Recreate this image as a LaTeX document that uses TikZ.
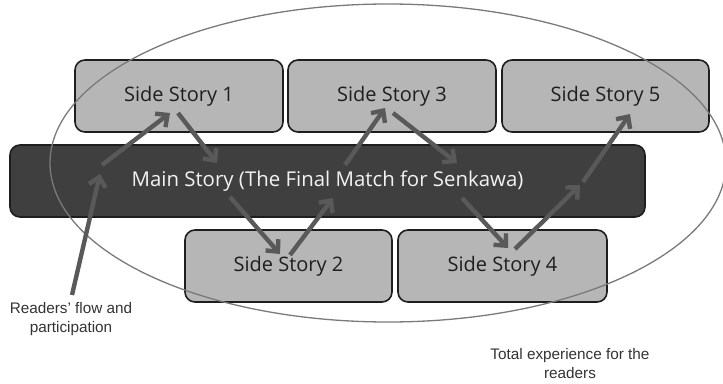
\documentclass[tikz,border=0pt]{standalone}
\usepackage{fontspec}
\newfontfamily\boxfont{Open Sans}
\newfontfamily\labelfont{Liberation Sans}
\usetikzlibrary{arrows.meta,calc}

\definecolor{sidefill}{HTML}{B6B6B6}
\definecolor{mainfill}{HTML}{3F3F3F}
\definecolor{edgecol}{HTML}{1E1E1E}
\definecolor{flowcol}{HTML}{595959}
\definecolor{ringcol}{HTML}{7A7A7A}
\definecolor{labelcol}{HTML}{333333}

\begin{document}
\begin{tikzpicture}[x=1pt,y=-1pt,
  storybox/.style={draw=edgecol, line width=1.6pt, rounded corners=10pt,
    minimum height=72pt, inner sep=0pt},
  sidebox/.style={storybox, fill=sidefill, minimum width=#1, text=black!88,
    font={\boxfont\fontsize{20}{24}\selectfont}},
  mainbox/.style={storybox, fill=mainfill, minimum width=#1, text=white!95!black,
    font={\boxfont\fontsize{20.4}{24}\selectfont}},
  flow/.style={draw=flowcol, line width=4.4pt,
    -{Straight Barb[length=9pt,width=17pt]}},
  note/.style={text=labelcol, align=center,
    font={\labelfont\fontsize{15.3}{19}\selectfont}},
]
\useasboundingbox (0,0) rectangle (723,383);

% story boxes
\node[sidebox=208pt] (ss1) at (179,96) {Side Story 1};
\node[sidebox=208pt] (ss3) at (392,96) {Side Story 3};
\node[sidebox=207pt] (ss5) at (605.5,96) {Side Story 5};
\node[mainbox=635pt] (main) at (327.5,181) {Main Story (The Final Match for Senkawa)};
\node[sidebox=207pt] (ss2) at (288.5,266) {Side Story 2};
\node[sidebox=209pt] (ss4) at (502.5,266) {Side Story 4};

% the reader's whole experience
\draw[ringcol, line width=1.3pt] (388,163) ellipse [x radius=338, y radius=159];

% captions
\node[note] (readers) at (71,319) {Readers’ flow and\\participation};
\node[note] (total) at (570,364) {Total experience for the\\readers};

% anchor points of the reading path
\coordinate (p0) at (72,295);
\coordinate (p1) at (100,174);
\coordinate (p2) at (102,165);
\coordinate (p3) at (170,113);
\coordinate (p4) at (178,113);
\coordinate (p5) at (217,163);
\coordinate (p6) at (230,197);
\coordinate (p7) at (280,254);
\coordinate (p8) at (290,255);
\coordinate (p9) at (333,198);
\coordinate (p10) at (345,165);
\coordinate (p11) at (385,108);
\coordinate (p12) at (393,113);
\coordinate (p13) at (457,163);
\coordinate (p14) at (462,198);
\coordinate (p15) at (508,248);
\coordinate (p16) at (515,249);
\coordinate (p17) at (580,185);
\coordinate (p18) at (583,182);
\coordinate (p19) at (630,114);

% reading path
\draw[flow] (p0) -- (p1);
\draw[flow] (p2) -- (p3);
\draw[flow] (p4) -- (p5);
\draw[flow] (p6) -- (p7);
\draw[flow] (p8) -- (p9);
\draw[flow] (p10) -- (p11);
\draw[flow] (p12) -- (p13);
\draw[flow] (p14) -- (p15);
\draw[flow] (p16) -- (p17);
\draw[flow] (p18) -- (p19);
\end{tikzpicture}
\end{document}
